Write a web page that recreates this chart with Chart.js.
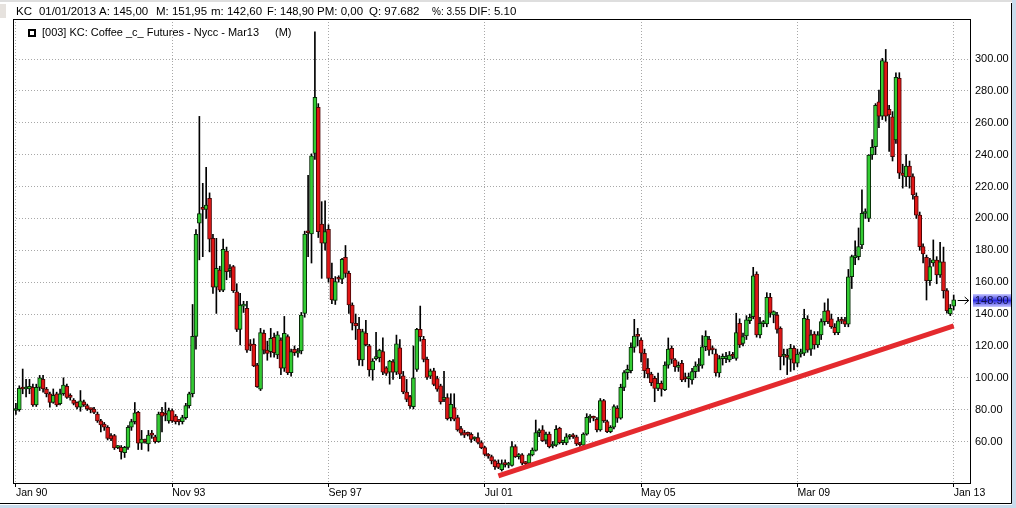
<!DOCTYPE html>
<html>
<head>
<meta charset="utf-8">
<script src="https://cdn.jsdelivr.net/npm/chart.js@4/dist/chart.umd.min.js"></script>
<style>
  html, body { margin: 0; padding: 0; background: #fff; }
  canvas { display: block; }
</style>
</head>
<body>
<canvas id="kc" width="1016" height="508"></canvas>
<script>
// monthly KC coffee futures, Jan 1990 .. Jan 2013 (one row per year)
const opens = [
  79.5, 80, 94, 93, 93, 94, 83, 94, 99, 93, 90, 84.6,
  90, 83.7, 90, 94.6, 88.8, 86, 84.6, 81.5, 85, 82.5, 80.2, 80.4,
  77.3, 73, 71, 69, 63.7, 63.7, 56.2, 56.4, 53, 56.4, 69, 72.5,
  78.3, 59, 60.2, 58.5, 64.2, 63, 60, 78.3, 77, 73, 79.4, 76,
  72.8, 72.5, 75, 82.5, 90, 126, 197, 207, 205.7, 212.6, 187.5, 156.8,
  167.6, 155, 179.5, 167.2, 169.7, 154, 130.4, 145, 143.6, 121, 121, 108,
  92.8, 127.9, 117.4, 116.4, 125.4, 114.3, 123.7, 106, 125.8, 103.2, 117.9, 115.5,
  116.9, 140.4, 191.7, 190.2, 240.8, 269.7, 196.5, 184.4, 193.1, 162.4, 148.6, 162.5,
  161.8, 175.6, 165.5, 145.7, 134.2, 130.5, 111.2, 128, 120, 105, 112, 112.6,
  116.4, 106.3, 103.6, 110, 103.6, 118.8, 101.2, 91.1, 88.2, 81.9, 105.3, 130.4,
  124.1, 111.6, 101, 104.3, 99.5, 94.9, 86.5, 87.6, 75, 81.3, 75, 68.1,
  65.6, 64.8, 64.5, 61.6, 62.5, 59.4, 56.2, 51.2, 50.6, 47.9, 46.4, 42.3,
  45.8, 45.2, 45, 56.8, 50.5, 51.6, 46.6, 46.4, 51.6, 54.5, 65.6, 67.3,
  60.9, 64.7, 57.2, 57.8, 68.3, 59.3, 59.2, 63, 63.6, 63, 58.5, 57.8,
  64.7, 74.8, 75.2, 73.9, 67.3, 85.7, 72.5, 66.2, 69, 80.8, 74.6, 94,
  103.2, 104.5, 119.1, 126.4, 123.7, 115.4, 106, 102.4, 99.7, 93.4, 96.5, 92.5,
  108, 118.5, 111.2, 106.5, 109.1, 100, 99.5, 98.6, 103.9, 107.4, 108, 119.5,
  124.1, 118, 115, 103, 112, 112, 111.2, 114.5, 112.2, 134.2, 121.6, 126.2,
  135.9, 138.4, 165.1, 126.9, 134, 133.8, 150.5, 139.5, 139.4, 131, 113.5, 114,
  111.6, 118.5, 109.1, 115, 115.4, 136.7, 117.9, 127.5, 120.6, 126.9, 135.2, 142.1,
  137, 131.7, 128.3, 136.5, 135.8, 133.7, 163.4, 175.4, 176, 183.3, 203.1, 200,
  239.8, 245, 273.2, 264.2, 298.3, 268.4, 263.8, 249.2, 287.9, 228.5, 226.1, 232.9,
  226.2, 214, 202.1, 182.3, 175.6, 160.9, 172, 173.9, 164.5, 172.8, 154.7, 140,
  145
];
const highs = [
  84, 95, 105.5, 99, 99, 96, 96, 101.5, 101.5, 94, 91, 93,
  91, 93, 100, 96, 90, 87, 85, 92, 86, 83.5, 81, 81.5,
  78.5, 74, 72, 70, 65, 64.5, 57.5, 57.5, 57, 70, 74, 84.5,
  79, 67, 61.5, 67, 67, 64, 78.5, 81.5, 84.5, 81, 80.5, 77,
  74, 76.5, 84, 91, 146, 193, 264, 222, 232, 216, 190, 187.5,
  170, 187, 182, 171, 170.5, 159, 153, 148, 148, 124, 124.5, 109,
  131, 130, 123, 131, 128, 129, 125, 138.5, 127, 118, 120, 118.5,
  141, 192, 227, 240.5, 317, 272, 210.5, 211, 196, 172, 163.5, 164,
  175, 183, 167, 147, 140, 138, 130.5, 136, 121, 112, 128.5, 118,
  125, 107, 111, 111.5, 126.8, 124, 104, 99, 89, 120, 131, 145,
  126, 113, 105.5, 106, 101, 96, 104, 90, 90, 90, 76.5, 69.5,
  67, 66, 65.5, 63, 65.5, 60.5, 57, 52.5, 51.5, 48.5, 48.5, 48.5,
  48.5, 47, 60, 58, 52.5, 52.5, 47.5, 52.5, 56, 73.5, 68, 70,
  66, 66, 60, 70, 69, 61, 65, 64.5, 65, 64, 59.5, 65.5,
  77.5, 77, 76, 75, 87, 86.5, 73.5, 70, 83, 82.5, 96, 104.5,
  108, 122, 136.7, 131, 125, 118, 112, 103.5, 101, 103, 98, 110,
  125, 120, 112, 110, 111, 103, 103, 106, 110, 112, 126.5, 129.5,
  126, 120, 118, 114, 115, 116, 116.5, 116, 140.5, 137, 128, 139,
  140, 169.3, 166.5, 138, 136, 153.4, 153, 142, 141, 132, 118, 118,
  121, 120, 118, 118, 143, 139, 130, 129, 129, 137, 147, 149.5,
  140, 134, 138, 138, 138, 168, 177, 186, 194, 218, 206, 240,
  249.5, 272, 280.5, 300.4, 306, 271, 267, 291.4, 291.4, 234, 240, 236,
  228, 216, 204, 184, 177, 175, 186.5, 176, 185, 182, 156, 146,
  151.95
];
const lows = [
  77, 79, 90, 88, 90, 82, 82, 92, 91, 88, 81.5, 84,
  82, 83, 89, 87, 86, 83, 80.5, 79, 82, 79.5, 78, 77.5,
  72, 66, 67, 61, 60.5, 55, 55.5, 49, 50, 55, 67, 71,
  55, 55, 59, 54, 62, 59, 59.5, 66, 73, 71.5, 72, 71,
  70.5, 71, 74, 81, 88, 118, 174, 176, 200, 179, 153, 140.4,
  154, 154, 161.5, 163, 153.5, 129, 120.6, 141, 116, 117, 107, 94,
  92, 115, 111, 113, 113, 112, 102, 104, 102, 101, 114, 113,
  115, 138, 176, 172, 237, 188, 162.4, 180, 160, 146.5, 146, 160,
  159, 163, 140.4, 130, 124, 107.8, 107.5, 120, 101, 98.5, 111, 110,
  102, 101.5, 96, 99, 102, 99.5, 90, 85, 80.8, 80.5, 104, 123,
  110, 99, 99.5, 95, 91.5, 83.5, 85, 73.5, 73, 73, 66.5, 64,
  62.5, 63.5, 59.5, 60.5, 58.5, 55.5, 51, 49.5, 46, 42.5, 43, 41.5,
  44, 43.5, 44.5, 50, 49, 45.5, 45.5, 46, 51, 54, 63, 60,
  58.5, 56, 56, 57, 58.5, 58, 58, 61.5, 62, 57.5, 57, 57,
  64, 72, 73, 66, 66.5, 72, 65.5, 65.5, 68, 72, 74, 92,
  99, 103, 116, 120, 110, 100, 100, 95, 85, 92, 88.5, 92,
  106, 109, 104, 104, 97.5, 97.5, 94, 96, 100, 104, 106, 117,
  114, 115, 101, 100.5, 108, 109.5, 110, 112, 111, 119, 120, 124,
  134, 137, 125.5, 125, 132, 132, 138, 134.5, 128, 105, 108, 102,
  104, 105, 107, 113, 114, 116, 114, 118, 119, 124, 133, 134,
  131, 127, 127, 134, 132, 132, 156, 171, 174, 181, 200, 198,
  237, 240, 257, 262, 261, 242, 236, 247, 225, 219, 220, 219,
  212, 200, 180, 172, 148.8, 158, 170, 159, 163, 150, 140.5, 139,
  142.6
];
const closes = [
  80.5, 93.4, 93, 93.5, 94.6, 83, 94, 100, 93, 90, 84.6, 89,
  83, 90, 95.5, 87.7, 87.7, 84, 81.5, 85.6, 83, 80.4, 80, 78.3,
  73, 70.4, 69, 62, 61.6, 56, 56.8, 53.6, 56.4, 69, 72.5, 78,
  59, 61.6, 60, 64, 64, 60, 77.3, 76, 76.5, 79.4, 73, 72.5,
  72.5, 75, 82.5, 90, 126, 190, 203, 205.7, 208.4, 187, 156.8, 168.7,
  155, 180.6, 166.6, 167.7, 154.7, 130.4, 145.7, 145.7, 117.4, 120, 107.4, 94.4,
  128.3, 117.4, 115.3, 124.8, 115.8, 126.9, 106, 127.9, 103.2, 116.4, 115.8, 116,
  139.4, 190.2, 191, 239.2, 276, 191.7, 184.4, 191.7, 162.4, 148.8, 160.3, 161.8,
  174.3, 165.5, 145.7, 134.2, 132.5, 111.2, 129, 120.8, 105, 110.5, 112.6, 117.4,
  103.6, 102.8, 110.5, 103.6, 121.3, 102.2, 91.1, 86.5, 82.3, 100, 130.4, 125.8,
  111.6, 100.2, 104.3, 95.9, 92.8, 84.9, 87, 74.4, 83.4, 74, 67.3, 65.2,
  64, 64.5, 61.4, 62, 59.4, 56.2, 52, 50.9, 47.9, 44.3, 43.7, 46,
  45.5, 45.6, 56.8, 50.5, 51.2, 46.4, 46.2, 51.6, 54.7, 65.6, 66.2, 60.6,
  64.7, 56.8, 57.8, 67.7, 59.3, 59.8, 63, 63.6, 63, 58.5, 58, 64.7,
  75.2, 75.5, 74.6, 67.3, 85.7, 73.1, 66.2, 68.9, 81.9, 74.6, 94, 103.2,
  105.3, 119.1, 126.2, 126, 115.4, 104.5, 102.4, 97, 93.4, 96.5, 92.8, 108,
  118, 111.5, 107, 107, 98.6, 99.3, 99.9, 103.9, 107.4, 108, 119.5, 126.2,
  117.4, 117.5, 103, 112, 113.5, 113.3, 114.3, 113.5, 128.3, 120.6, 125.8, 136.3,
  137.9, 163.9, 126.9, 134.2, 134.5, 150.5, 140.5, 141.5, 130.4, 113.3, 114, 112.8,
  118.5, 109.1, 114.9, 116, 137.3, 117.4, 126.9, 120.6, 126.9, 135.2, 141.9, 135.2,
  132.1, 128.3, 135.8, 135.5, 133.7, 163.4, 176, 176.2, 182.3, 203.2, 203.6, 239.8,
  244.6, 271, 264.2, 299, 264.2, 264.9, 238.7, 288.5, 228.3, 227, 232.9, 226.2,
  214.7, 202.1, 182.3, 177.7, 160.9, 169.7, 174, 164.5, 172.8, 154.7, 142.1, 143.6,
  148.9
];

// support line drawn on the chart (month index, price)
const trendMonths = [142, 276];
const trendValues = [38.5, 132.5];

const xTickMonths = [0, 46, 92, 138, 184, 230, 276];
const xTickLabels = ['Jan 90', 'Nov 93', 'Sep 97', 'Jul 01', 'May 05', 'Mar 09', 'Jan 13'];
const yTickValues = [60, 80, 100, 120, 140, 160, 180, 200, 220, 240, 260, 280, 300];

const headerItems = [
  ['KC', 16], ['01/01/2013', 39], ['A: 145,00', 99], ['M: 151,95', 156],
  ['m: 142,60', 211], ['F: 148,90', 267], ['PM: 0,00', 317], ['Q: 97.682', 369],
  ['%: 3.55', 432], ['DIF: 5.10', 469]
];
const legendText = '[003] KC: Coffee _c_ Futures - Nycc - Mar13';

const GREEN = '#33cc33';
const RED = '#e01616';

const wickData = highs.map((h, i) => ({ x: i, y: [lows[i], h] }));
const bodyData = opens.map((o, i) => ({ x: i, y: [Math.min(o, closes[i]), Math.max(o, closes[i])] }));
const bodyColors = opens.map((o, i) => closes[i] >= o ? GREEN : RED);
const bodyBorders = opens.map((o, i) => closes[i] >= o ? '#062806' : '#4a0606');

const chrome = {
  id: 'chrome',
  beforeDraw(chart) {
    const c = chart.ctx;
    c.save();
    c.fillStyle = '#fff';
    c.fillRect(0, 0, chart.width, chart.height);
    c.fillStyle = '#c8dbec';
    c.fillRect(1012, 0, 4, 508);
    c.fillRect(0, 505, 1016, 3);
    c.fillStyle = '#dedede';
    c.fillRect(0, 0, 1012, 2);
    c.fillStyle = '#e6e2de';
    c.fillRect(0, 4, 6, 14);
    c.strokeStyle = '#000';
    c.lineWidth = 1;
    c.beginPath();
    c.moveTo(1011.5, 3);
    c.lineTo(1011.5, 503.5);
    c.lineTo(0, 503.5);
    c.stroke();
    c.restore();
  },
  afterDraw(chart) {
    const c = chart.ctx;
    const a = chart.chartArea;
    c.save();
    c.strokeStyle = '#000';
    c.lineWidth = 1;
    c.strokeRect(a.left + 0.5, a.top + 0.5, a.right - a.left, a.bottom - a.top);

    c.fillStyle = '#000';
    c.textBaseline = 'middle';
    c.font = '11.5px "Liberation Sans", Arial, sans-serif';
    headerItems.forEach(([t, x], i) => {
      if (i + 1 < headerItems.length) {
        c.fillText(t, x, 12, headerItems[i + 1][1] - x - 3);
      } else {
        c.fillText(t, x, 12);
      }
    });

    // legend
    c.font = '11px "Liberation Sans", Arial, sans-serif';
    c.fillRect(28, 29, 8, 8);
    c.fillStyle = '#fff';
    c.fillRect(30, 31, 4, 4);
    c.fillStyle = '#000';
    c.fillText(legendText, 42, 33, 217);
    c.fillText('(M)', 275, 33);

    // last price marker
    const last = closes[closes.length - 1];
    const py = Math.round(chart.scales.y.getPixelForValue(last));
    const g = c.createLinearGradient(0, py - 6, 0, py + 7);
    g.addColorStop(0, '#c8c8ff');
    g.addColorStop(0.5, '#2a2ae0');
    g.addColorStop(1, '#c8c8ff');
    c.fillStyle = g;
    c.fillRect(973, py - 6, 38, 13);
    c.fillStyle = '#10104a';
    c.fillText(last.toFixed(2), 975, py + 1);

    const px = chart.scales.x.getPixelForValue(closes.length - 1);
    c.strokeStyle = '#000';
    c.beginPath();
    c.moveTo(px + 4, py + 0.5);
    c.lineTo(px + 15, py + 0.5);
    c.moveTo(px + 11, py - 3);
    c.lineTo(px + 15, py + 0.5);
    c.lineTo(px + 11, py + 4);
    c.stroke();
    c.restore();
  }
};

new Chart(document.getElementById('kc'), {
  type: 'bar',
  data: {
    datasets: [
      {
        type: 'line',
        data: trendMonths.map((m, i) => ({ x: m, y: trendValues[i] })),
        borderColor: '#e42a2e',
        borderWidth: 5,
        pointRadius: 0,
        borderCapStyle: 'butt',
        order: 0
      },
      {
        data: bodyData,
        backgroundColor: bodyColors,
        borderColor: bodyBorders,
        borderWidth: 1,
        borderSkipped: false,
        barThickness: 4,
        minBarLength: 2,
        grouped: false,
        order: 1
      },
      {
        data: wickData,
        backgroundColor: '#000',
        barThickness: 1,
        grouped: false,
        order: 2
      }
    ]
  },
  options: {
    responsive: false,
    animation: false,
    devicePixelRatio: 1,
    layout: { padding: { left: 13, top: 19, right: 0, bottom: 0 } },
    plugins: { legend: { display: false }, tooltip: { enabled: false } },
    scales: {
      x: {
        type: 'linear',
        min: -0.85,
        max: 280.8,
        offset: false,
        afterFit: s => { s.height = 25; },
        afterBuildTicks: s => { s.ticks = xTickMonths.map(v => ({ value: v })); },
        grid: {
          offset: false,
          color: '#a8a8a8',
          borderDash: [1, 2],
          tickLength: 4,
          tickColor: '#000',
          tickWidth: 1,
          tickBorderDash: []
        },
        border: { display: false, dash: [1, 2] },
        ticks: {
          align: 'start',
          padding: 0,
          maxRotation: 0,
          color: '#000',
          font: { family: '"Liberation Sans", Arial, sans-serif', size: 10.5 },
          callback: v => xTickLabels[xTickMonths.indexOf(v)]
        }
      },
      y: {
        position: 'right',
        min: 34,
        max: 325.1,
        afterFit: s => { s.width = 46; },
        afterBuildTicks: s => { s.ticks = yTickValues.map(v => ({ value: v })); },
        grid: { color: '#a8a8a8', borderDash: [1, 2], drawTicks: false },
        border: { display: false, dash: [1, 2] },
        ticks: {
          padding: 5,
          color: '#000',
          font: { family: '"Liberation Sans", Arial, sans-serif', size: 11 },
          callback: v => v.toFixed(2)
        }
      }
    }
  },
  plugins: [chrome]
});
</script>
</body>
</html>
